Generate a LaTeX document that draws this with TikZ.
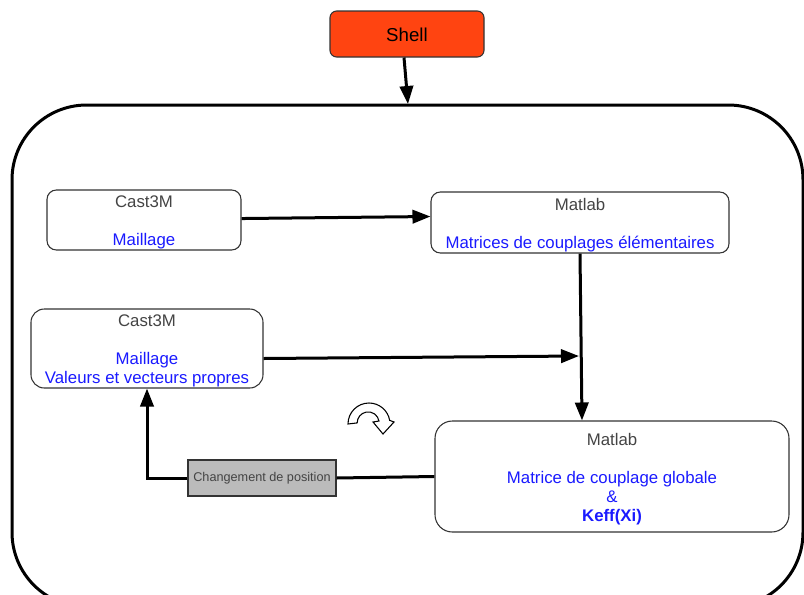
\documentclass[tikz,border=0pt]{standalone}
\usepackage{fontspec}
\setmainfont{Liberation Sans}
\usetikzlibrary{arrows.meta}
\definecolor{shellred}{HTML}{FF4411}
\definecolor{labgray}{HTML}{444444}
\definecolor{labblue}{HTML}{1A1AFF}
\definecolor{boxgray}{HTML}{BBBBBB}
\definecolor{edgegray}{HTML}{333333}
\tikzset{
  box/.style={draw=edgegray, line width=0.8pt, fill=white, align=center, inner sep=0pt,
    font=\fontsize{12.6pt}{14.25pt}\selectfont},
  conn/.style={line width=2.25pt, draw=black},
  arr/.style={conn, -{Triangle[length=13.5pt,width=10pt]}},
}
\newcommand{\gr}[1]{\rule{0pt}{13pt}\textcolor{labgray}{#1}}
\newcommand{\bl}[1]{\textcolor{labblue}{#1}}
\begin{document}
\begin{tikzpicture}[x=0.75pt,y=-0.75pt]
\useasboundingbox (0,0) rectangle (804,594);
\clip (0,0) rectangle (804,594);
% container
\draw[line width=2.25pt, rounded corners=56pt] (12,105) rectangle (803,607);
\coordinate (ctop) at (408,104);
% shell
\node[box, fill=shellred, rounded corners=5pt, minimum width=115.5pt, minimum height=34.5pt,
  font=\fontsize{14pt}{16pt}\selectfont] (shell) at (407,34) {\rule{0pt}{11.5pt}Shell};
% boxes
\node[box, rounded corners=7pt, minimum width=145.5pt, minimum height=45pt] (cast1) at (144,220)
  {\gr{Cast3M}\\[14.25pt]\bl{Maillage}};
\node[box, rounded corners=7pt, minimum width=223.5pt, minimum height=45.75pt] (matlab1) at (580,222.5)
  {\gr{Matlab}\\[14.25pt]\bl{Matrices de couplages élémentaires}};
\node[box, rounded corners=10pt, minimum width=174pt, minimum height=59.25pt] (cast2) at (147,348.5)
  {\gr{Cast3M}\\[14.25pt]\bl{Maillage}\\\bl{Valeurs et vecteurs propres}};
\node[box, rounded corners=13pt, minimum width=265.5pt, minimum height=83.25pt] (matlab2) at (612,476.5)
  {\gr{Matlab}\\[14.25pt]\bl{Matrice de couplage globale}\\\bl{\&}\\\bl{\textbf{Keff(Xi)}}};
\node[box, fill=boxgray, rounded corners=0pt, minimum width=111pt, minimum height=27pt,
  font=\fontsize{9.5pt}{11pt}\selectfont] (chg) at (262,478) {\textcolor{labgray}{Changement de position}};
\coordinate (j) at (579,356);
% connectors
\draw[arr] ([xshift=-2.25pt]shell.south) -- (ctop);
\draw[arr] ([yshift=1.1pt]cast1.east) -- ([yshift=4.5pt]matlab1.west);
\draw[arr] (matlab1.south) -- ([xshift=-22.5pt]matlab2.north);
\draw[arr] ([yshift=-7.5pt]cast2.east) -- (j);
\draw[conn] (matlab2.west) -- (chg.east);
\draw[arr] (chg.west) -| (cast2.south);
% rotation symbol
\draw[line width=0.8pt, fill=white, line join=miter]
  (348,424) arc[start angle=180, end angle=350, radius=21]
  -- (394,422) -- (383,434) -- (373,422) -- (379,421)
  arc[start angle=350, end angle=180, radius=11] -- cycle;
\end{tikzpicture}
\end{document}
